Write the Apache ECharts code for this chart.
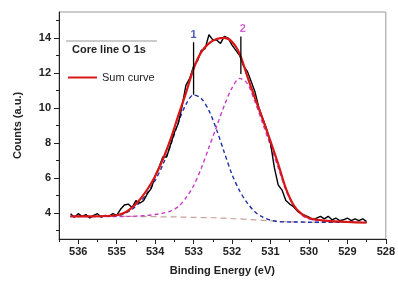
<!DOCTYPE html>
<html>
<head>
<meta charset="utf-8">
<script src="https://cdn.jsdelivr.net/npm/echarts@6/dist/echarts.min.js"></script>
<style>
  html, body { margin: 0; padding: 0; background: #fff; }
  #chart { width: 398px; height: 281px; }
</style>
</head>
<body>
<div id="chart"></div>
<script>
// 测量数据 (raw counts)
let rawEv = [536.2, 536.1, 536.0, 535.9, 535.8, 535.7, 535.6, 535.5, 535.4, 535.3, 535.2, 535.1, 535.0,
  534.9, 534.8, 534.7, 534.6, 534.5, 534.4, 534.3, 534.2, 534.1, 534.0, 533.9, 533.8, 533.7, 533.6,
  533.5, 533.4, 533.3, 533.2, 533.1, 533.0, 532.9, 532.8, 532.7, 532.6, 532.5, 532.4, 532.3, 532.2,
  532.1, 532.0, 531.9, 531.8, 531.7, 531.6, 531.5, 531.4, 531.3, 531.2, 531.1, 531.0, 530.9, 530.8,
  530.7, 530.6, 530.5, 530.4, 530.3, 530.2, 530.1, 530.0, 529.9, 529.8, 529.7, 529.6, 529.5, 529.4,
  529.3, 529.2, 529.1, 529.0, 528.9, 528.8, 528.7, 528.6, 528.5];
let rawCounts = [3.95, 3.75, 3.95, 3.8, 3.9, 3.7, 3.85, 3.95, 3.75, 3.85, 3.8, 3.95, 3.85,
  4.2, 4.45, 4.5, 4.3, 4.7, 4.55, 4.7, 5.1, 5.4, 6.1, 6.6, 7.2, 7.2, 7.9,
  8.6, 9.1, 10.1, 11.3, 11.7, 12.4, 12.7, 13.3, 13.4, 14.2, 13.9, 13.9, 13.7, 14.1,
  14.0, 13.6, 13.3, 13.0, 12.4, 12.1, 11.5, 10.9, 10.0, 9.4, 8.8, 8.0, 6.6, 5.6,
  5.3, 4.7, 4.5, 4.35, 4.1, 3.95, 3.85, 3.75, 3.6, 3.7, 3.8, 3.65, 3.8, 3.6,
  3.7, 3.55, 3.6, 3.7, 3.55, 3.65, 3.55, 3.65, 3.5];

// 拟合曲线
let fitEv = [536.2, 535.6, 535.0, 534.8, 534.6, 534.4, 534.2, 534.0, 533.8, 533.6, 533.4, 533.2, 533.0,
  532.8, 532.6, 532.4, 532.2, 532.0, 531.8, 531.6, 531.4, 531.2, 531.0, 530.8, 530.6, 530.4, 530.2,
  530.0, 529.6, 529.0, 528.5];
let sumCurve = [3.8, 3.8, 3.86, 4.0, 4.3, 4.75, 5.35, 6.1, 7.05, 8.2, 9.55, 10.85, 12.25,
  13.2, 13.7, 13.95, 14.02, 13.8, 13.1, 11.8, 10.55, 9.35, 8.1, 6.8, 5.4, 4.45, 3.95,
  3.7, 3.55, 3.48, 3.43];
let peak1 = [3.8, 3.8, 3.84, 3.95, 4.2, 4.6, 5.15, 5.85, 6.75, 7.85, 9.15, 10.2, 10.75,
  10.55, 9.85, 8.75, 7.45, 6.2, 5.25, 4.55, 4.05, 3.75, 3.58, 3.5, 3.48, 3.47, 3.47,
  3.46, 3.46, 3.45, 3.45];
let peak2 = [3.78, 3.78, 3.78, 3.79, 3.8, 3.82, 3.85, 3.9, 3.98, 4.1, 4.35, 4.85, 5.55,
  6.55, 7.75, 8.95, 10.15, 11.15, 11.7, 11.4, 10.35, 9.1, 7.85, 6.6, 5.3, 4.4, 3.9,
  3.65, 3.5, 3.46, 3.45];
let background = [3.8, 3.8, 3.79, 3.79, 3.79, 3.78, 3.78, 3.78, 3.77, 3.77, 3.76, 3.75, 3.74,
  3.73, 3.72, 3.71, 3.69, 3.67, 3.65, 3.62, 3.6, 3.57, 3.54, 3.51, 3.49, 3.48, 3.47,
  3.46, 3.46, 3.45, 3.45];

// 峰位标记
let peakNames = ['1', '2'];
let peakPos = [533.0, 531.77];
let markTop = [13.77, 14.1];
let markBottom = [10.76, 11.95];
let peakColors = ['#1f2fa8', '#c83cc8'];

let xTicks = [528, 529, 530, 531, 532, 533, 534, 535, 536];
let xMinor = [528.5, 529.5, 530.5, 531.5, 532.5, 533.5, 534.5, 535.5, 536.5];
let yTicks = [4, 6, 8, 10, 12, 14];
let yMinor = [3, 5, 7, 9, 11, 13, 15];

const FONT = 'Liberation Sans, Arial, sans-serif';
const zip = (xs, ys) => xs.map((x, i) => [x, ys[i]]);

function fitLine(name, values, color, type, width, z) {
  return {
    name: name,
    type: 'line',
    data: zip(fitEv, values),
    showSymbol: false,
    symbol: 'none',
    smooth: 0.3,
    z: z,
    lineStyle: { color: color, width: width, type: type },
    itemStyle: { color: color },
    silent: true
  };
}

let chartConfig = {
  animation: false,
  textStyle: { fontFamily: FONT },
  title: {
    text: 'Core line O 1s',
    left: 72,
    top: 44,
    padding: 0,
    textStyle: { fontSize: 11, fontWeight: 'bold', color: '#222', fontFamily: FONT }
  },
  legend: {
    data: ['Sum curve'],
    left: 68,
    top: 72,
    padding: 0,
    icon: 'rect',
    itemWidth: 29,
    itemHeight: 2,
    itemGap: 5,
    textStyle: { fontSize: 11, color: '#222', fontFamily: FONT }
  },
  graphic: [{
    type: 'line',
    shape: { x1: 66, y1: 41, x2: 157, y2: 41 },
    style: { stroke: '#999', lineWidth: 1 }
  }],
  grid: {
    left: 59, right: 7, top: 12, bottom: 39,
    show: true, borderColor: '#999', borderWidth: 1
  },
  xAxis: [{
    type: 'value',
    min: 528, max: 536.5,
    inverse: true,
    position: 'bottom',
    name: 'Binding Energy (eV)',
    nameLocation: 'middle',
    nameGap: 26,
    nameTextStyle: { fontSize: 11, fontWeight: 'bold', color: '#222', fontFamily: FONT },
    axisLine: { lineStyle: { color: '#222', width: 1 } },
    axisTick: { customValues: xTicks, length: 5, lineStyle: { color: '#222' } },
    axisLabel: { customValues: xTicks, fontSize: 11, fontWeight: 'bold', color: '#222', margin: 7, fontFamily: FONT },
    splitLine: { show: false }
  }, {
    type: 'value',
    min: 528, max: 536.5,
    inverse: true,
    position: 'bottom',
    offset: 0,
    axisLine: { show: false },
    axisTick: { customValues: xMinor, length: 3, lineStyle: { color: '#222' } },
    axisLabel: { show: false },
    splitLine: { show: false }
  }],
  yAxis: [{
    type: 'value',
    min: 2.5, max: 15.5,
    position: 'left',
    name: 'Counts (a.u.)',
    nameLocation: 'middle',
    nameGap: 36,
    nameTextStyle: { fontSize: 11, fontWeight: 'bold', color: '#222', fontFamily: FONT },
    axisLine: { show: true, lineStyle: { color: '#222', width: 1 } },
    axisTick: { show: true, customValues: yTicks, length: 5, lineStyle: { color: '#222' } },
    axisLabel: { customValues: yTicks, fontSize: 11, fontWeight: 'bold', color: '#222', margin: 8, fontFamily: FONT },
    splitLine: { show: false }
  }, {
    type: 'value',
    min: 2.5, max: 15.5,
    position: 'left',
    offset: 0,
    axisLine: { show: false },
    axisTick: { show: true, customValues: yMinor, length: 3, lineStyle: { color: '#222' } },
    axisLabel: { show: false },
    splitLine: { show: false }
  }],
  series: []
};

chartConfig.series.push(fitLine('Background', background, '#c9a09a', [6, 4], 1.2, 1));
chartConfig.series.push(fitLine('Peak 2', peak2, peakColors[1], [4, 3], 1.4, 2));
chartConfig.series.push(fitLine('Peak 1', peak1, peakColors[0], [4, 3], 1.4, 3));
chartConfig.series.push({
  name: 'Raw',
  type: 'line',
  data: zip(rawEv, rawCounts),
  showSymbol: false,
  symbol: 'none',
  z: 4,
  lineStyle: { color: '#000', width: 1.4 },
  silent: true
});
chartConfig.series.push(fitLine('Sum curve', sumCurve, '#d81818', 'solid', 2.2, 5));

// 峰位竖线和编号
peakNames.forEach((label, i) => {
  chartConfig.series.push({
    type: 'line',
    data: [[peakPos[i], markTop[i]], [peakPos[i], markBottom[i]]],
    showSymbol: false,
    symbol: 'none',
    z: 6,
    lineStyle: { color: '#000', width: 1.3 },
    silent: true
  });
  chartConfig.series.push({
    type: 'scatter',
    data: [[peakPos[i], markTop[i]]],
    symbolSize: 2,
    itemStyle: { color: 'rgba(0,0,0,0)' },
    z: 7,
    label: {
      show: true,
      formatter: label,
      position: 'top',
      distance: 1,
      offset: [i === 1 ? 2 : 0, 0],
      fontSize: 11,
      fontWeight: 'bold',
      color: peakColors[i],
      fontFamily: FONT
    },
    silent: true
  });
});

let chart = echarts.init(document.getElementById('chart'));
chart.setOption(chartConfig);
window.addEventListener('resize', function () {
  chart.resize();
});
</script>
</body>
</html>
